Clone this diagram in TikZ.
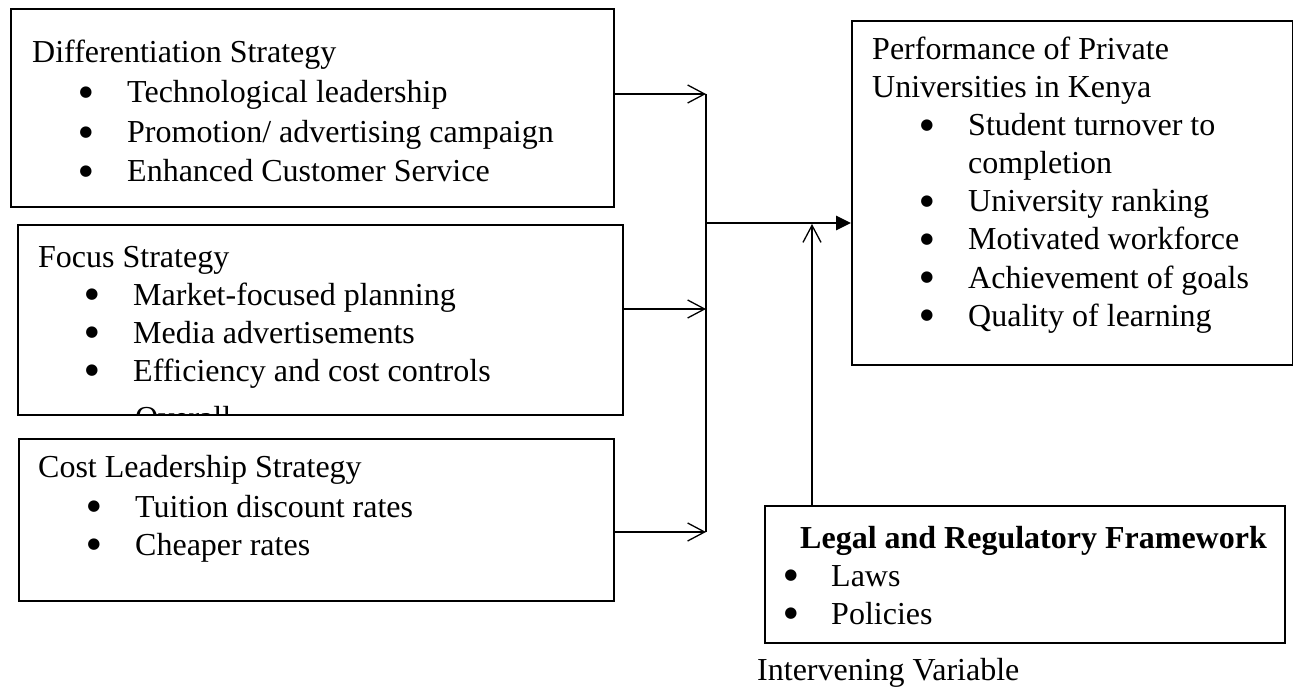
\documentclass[tikz,border=0pt]{standalone}
\usepackage{fontspec}
\setmainfont{Liberation Serif}
\newfontfamily\dotfont{DejaVu Sans}
\usetikzlibrary{arrows.meta}

\begin{document}
\begin{tikzpicture}[x=1pt,y=-1pt,
  box/.style={draw,line width=1.6pt,inner sep=0pt,anchor=north west},
  txt/.style={anchor=base west,inner sep=0pt,font=\fontsize{32pt}{38pt}\selectfont},
  dot/.style={anchor=center,inner sep=0pt,font=\dotfont\fontsize{15pt}{15pt}\selectfont},
  barb/.style={line width=1.3pt,-{Straight Barb[length=17pt,width=18pt]}}]
\useasboundingbox (0,0) rectangle (1293,687);

\node[box,minimum width=603pt,minimum height=198pt] (diff) at (10,8) {};
\node[txt] (dhead) at (32,63) {Differentiation Strategy};
\node[dot] (d1dot) at (86,93) {●};
\node[txt] (d1) at (127,103) {Technological leadership};
\node[dot] (d2dot) at (86,133) {●};
\node[txt] (d2) at (127,143) {Promotion/ advertising campaign};
\node[dot] (d3dot) at (86,172) {●};
\node[txt] (d3) at (127,182) {Enhanced Customer Service};

\node[box,minimum width=605pt,minimum height=190pt] (focus) at (17,224) {};
\node[txt] (fhead) at (38,267) {Focus Strategy};
\node[dot] (f1dot) at (92,295) {●};
\node[txt] (f1) at (133,305) {Market-focused planning};
\node[dot] (f2dot) at (92,333) {●};
\node[txt] (f2) at (133,343) {Media advertisements};
\node[dot] (f3dot) at (92,371) {●};
\node[txt] (f3) at (133,381) {Efficiency and cost controls};
\begin{scope}
\clip (focus.north west) rectangle (focus.south east);
\node[txt] (f4) at (135,428) {Overall};
\end{scope}

\node[box,minimum width=595pt,minimum height=162pt] (cost) at (18,438) {};
\node[txt] (chead) at (38,477) {Cost Leadership Strategy};
\node[dot] (c1dot) at (94,507) {●};
\node[txt] (c1) at (135,517) {Tuition discount rates};
\node[dot] (c2dot) at (94,545) {●};
\node[txt] (c2) at (135,555) {Cheaper rates};

\node[box,minimum width=441pt,minimum height=344pt] (perf) at (851,20) {};
\node[txt] (phead) at (872,60) {Performance of Private};
\node[txt] (phead2) at (872,98) {Universities in Kenya};
\node[dot] (p1dot) at (927,126) {●};
\node[txt] (p1) at (968,136) {Student turnover to};
\node[txt] (p1b) at (968,174) {completion};
\node[dot] (p2dot) at (927,202) {●};
\node[txt] (p2) at (968,212) {University ranking};
\node[dot] (p3dot) at (927,240) {●};
\node[txt] (p3) at (968,250) {Motivated workforce};
\node[dot] (p4dot) at (927,278) {●};
\node[txt] (p4) at (968,288) {Achievement of goals};
\node[dot] (p5dot) at (927,316) {●};
\node[txt] (p5) at (968,326) {Quality of learning};

\node[box,minimum width=520pt,minimum height=137pt] (legal) at (764,505) {};
\node[txt,font=\fontsize{32pt}{38pt}\selectfont\bfseries] (lhead) at (800,548) {Legal and Regulatory Framework};
\node[dot] (l1dot) at (791,576) {●};
\node[txt] (l1) at (831,586) {Laws};
\node[dot] (l2dot) at (791,614) {●};
\node[txt] (l2) at (831,624) {Policies};
\node[txt] (interv) at (757,680) {Intervening Variable};

\coordinate (jtop) at (706,94);
\coordinate (jfoc) at (706,309);
\coordinate (jmid) at (706,223);
\coordinate (jbot) at (706,532);
\coordinate (lin) at (812,224);

\draw[barb] (diff.east |- jtop) -- (jtop);
\draw[barb] (focus.east |- jfoc) -- (jfoc);
\draw[barb] (cost.east |- jbot) -- (jbot);
\draw[line width=1.8pt] (jtop) -- (jbot);
\draw[line width=2.6pt,-{Triangle[length=15pt,width=14pt]}] (jmid) -- (perf.west |- jmid);
\draw[barb] (lin |- legal.north) -- (lin);
\end{tikzpicture}
\end{document}
